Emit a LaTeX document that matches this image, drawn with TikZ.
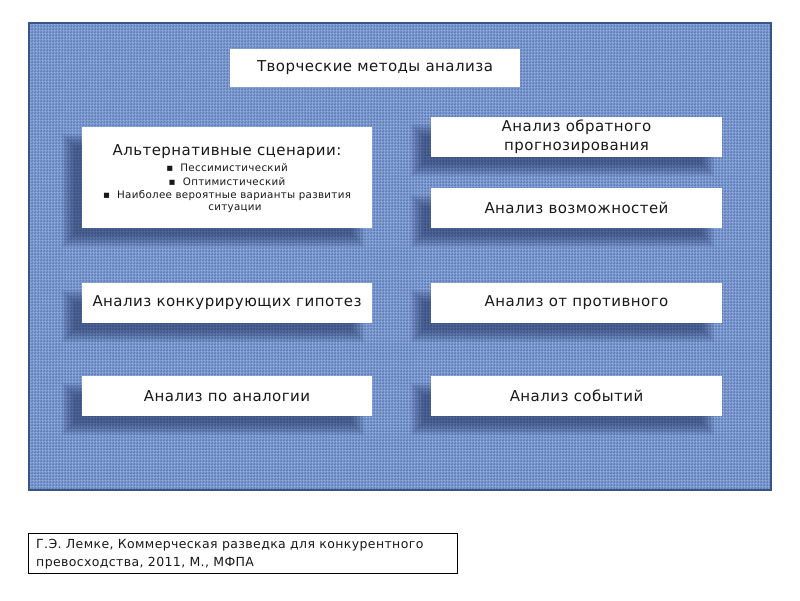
\documentclass[tikz,border=0pt]{standalone}
\usepackage{fontspec}
\setmainfont{DejaVu Sans}[LetterSpace=3]
\usetikzlibrary{patterns}
\definecolor{bgblue}{RGB}{95,127,188}
\definecolor{edgeblue}{RGB}{55,85,135}
\definecolor{lineblue}{RGB}{180,205,245}
\definecolor{shadowblue}{RGB}{30,45,90}
\definecolor{txt}{RGB}{25,25,25}
\pgfdeclarelayer{panel}
\pgfdeclarelayer{shadowlayer}
\pgfsetlayers{panel,shadowlayer,main}
\newcommand{\softshadow}[1]{%
  \begin{pgfonlayer}{shadowlayer}
  \foreach \r in {-6,-4,...,6}{
    \fill[shadowblue, opacity=0.1]
      ([shift={(-14-\r,13-\r)}]#1.north west) rectangle ([shift={(-14+\r,13+\r)}]#1.south east);
  }
  \end{pgfonlayer}}
\begin{document}
\begin{tikzpicture}[x=1pt,y=-1pt,
  card/.style={fill=white, inner sep=0pt, align=center, text=txt, font=\fontsize{15}{19}\selectfont},
  small/.style={inner sep=0pt, text=txt, font=\fontsize{10.3}{12}\selectfont},
  wide/.style={minimum width=290pt, minimum height=40pt}]
\begin{pgfonlayer}{panel}
\useasboundingbox[fill=white] (0,0) rectangle (800,600);
\fill[bgblue] (29,23) rectangle (771,490);
\fill[pattern=grid, pattern color=lineblue, opacity=0.35] (29,23) rectangle (771,490);
\fill[pattern=crosshatch dots, pattern color=lineblue!60!white, opacity=0.35] (29,23) rectangle (771,490);
\draw[edgeblue, line width=1.6pt] (29,23) rectangle (771,490);
\end{pgfonlayer}
% title
\node[card, minimum width=290pt, minimum height=38pt] (title) at (375,68) {Творческие методы анализа};
% alternative scenarios
\node[card, minimum width=290pt, minimum height=101pt] (alt) at (227,177.5) {};
\node[inner sep=0pt, text=txt, font=\fontsize{15}{17}\selectfont] (altt) at (227,152) {Альтернативные сценарии:};
\node[small] (b1) at (227,168) {▪\ \ Пессимистический};
\node[small] (b2) at (227,182) {▪\ \ Оптимистический};
\node[small] (b3) at (227,195.5) {▪\ \ Наиболее вероятные варианты развития};
\node[small] (b4) at (235,208.5) {ситуации};
% right column
\node[card, wide, minimum width=291pt] (r1) at (576.5,137) {Анализ обратного\\прогнозирования};
\node[card, wide, minimum width=291pt] (r2) at (576.5,208) {Анализ возможностей};
\node[card, wide, minimum width=291pt] (r3) at (576.5,303) {Анализ от противного};
\node[card, wide, minimum width=291pt] (r4) at (576.5,396) {Анализ событий};
% left column
\node[card, wide] (l3) at (227,303) {Анализ конкурирующих гипотез};
\node[card, wide] (l4) at (227,396) {Анализ по аналогии};
\softshadow{alt}\softshadow{r1}\softshadow{r2}\softshadow{r3}\softshadow{r4}\softshadow{l3}\softshadow{l4}
% citation
\node[draw=black, line width=0.8pt, fill=white, minimum width=429pt, minimum height=40pt, inner sep=0pt] (cite) at (242.5,553) {};
\node[anchor=north west, inner sep=0pt, align=left, text=txt, font=\fontsize{12.5}{18}\selectfont] (citet) at (36,539) {Г.Э. Лемке, Коммерческая разведка для конкурентного\\превосходства, 2011, М., МФПА};
\end{tikzpicture}
\end{document}
